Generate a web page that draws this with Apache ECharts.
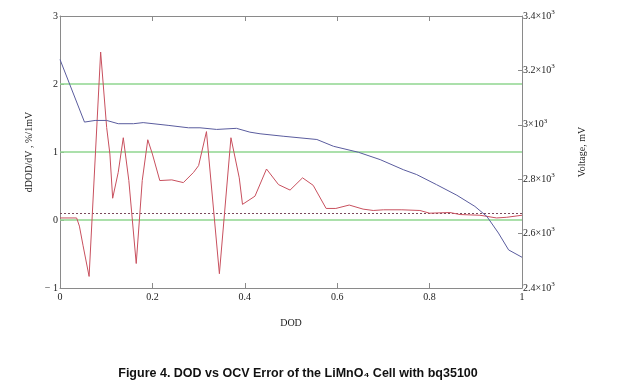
<!DOCTYPE html>
<html>
<head>
<meta charset="utf-8">
<script src="https://cdn.jsdelivr.net/npm/echarts@6/dist/echarts.min.js"></script>
<style>html,body{margin:0;padding:0;background:#fff}#c{width:640px;height:380px}</style>
</head>
<body>
<div id="c"></div>
<script>
// dDOD/dV error curve (left axis)
const redDod = [0, 0.036, 0.042, 0.05, 0.063, 0.088, 0.101, 0.108, 0.114, 0.126, 0.137, 0.149, 0.165, 0.178, 0.19, 0.2, 0.216, 0.242, 0.267, 0.289, 0.3, 0.317, 0.345, 0.37, 0.388, 0.395, 0.422, 0.447, 0.473, 0.498, 0.525, 0.548, 0.576, 0.597, 0.626, 0.656, 0.678, 0.70, 0.74, 0.779, 0.80, 0.844, 0.866, 0.909, 0.945, 0.967, 1.0];
const redVal = [0.03, 0.03, -0.09, -0.38, -0.83, 2.47, 1.36, 0.97, 0.32, 0.70, 1.21, 0.58, -0.64, 0.58, 1.18, 0.97, 0.58, 0.59, 0.55, 0.70, 0.80, 1.30, -0.79, 1.21, 0.62, 0.23, 0.35, 0.75, 0.52, 0.44, 0.62, 0.51, 0.17, 0.17, 0.22, 0.16, 0.14, 0.15, 0.15, 0.14, 0.10, 0.11, 0.08, 0.07, 0.03, 0.04, 0.07];
// OCV voltage curve (right axis, mV)
const blueDod = [0, 0.053, 0.076, 0.101, 0.126, 0.159, 0.18, 0.234, 0.278, 0.303, 0.339, 0.382, 0.411, 0.433, 0.483, 0.556, 0.592, 0.646, 0.693, 0.743, 0.772, 0.815, 0.859, 0.898, 0.924, 0.949, 0.971, 1.0];
const blueMv = [3240, 3010, 3016, 3016, 3004, 3004, 3008, 2998, 2989, 2989, 2983, 2987, 2973, 2967, 2958, 2946, 2921, 2899, 2872, 2835, 2817, 2780, 2741, 2700, 2663, 2602, 2540, 2513];
// reference lines
const greenLevels = [0, 1, 2];
const dottedLevel = 0.1;
// tick labels
const leftTicks = {'-1': '\u2212 1', '0': '0', '1': '1', '2': '2', '3': '3'};
const rightTicks = {2400: '2.4', 2600: '2.6', 2800: '2.8', 3000: '3', 3200: '3.2', 3400: '3.4'};
const xTicks = {0: '0', 0.2: '0.2', 0.4: '0.4', 0.6: '0.6', 0.8: '0.8', 1: '1'};

const serif = 'Liberation Serif';
const axisGray = '#8a8a8a';

const chart = echarts.init(document.getElementById('c'), null, {renderer: 'canvas'});
const markData = greenLevels.map(v => ({yAxis: v, lineStyle: {color: '#8fd68f', width: 1.5, type: 'solid'}}));
markData.push({yAxis: dottedLevel, lineStyle: {color: '#7a4a5a', width: 1, type: [2, 2]}});

chart.setOption({
  animation: false,
  title: {
    text: 'Figure 4. DOD vs OCV Error of the LiMnO\u2084 Cell with bq35100',
    left: 293, top: 362, textAlign: 'center',
    textStyle: {fontFamily: 'Liberation Sans', fontWeight: 'bold', fontSize: 12.5, color: '#111'}
  },
  grid: {left: 60, right: 118, top: 16, bottom: 92, show: false},
  xAxis: [{
    type: 'value', min: 0, max: 1, interval: 0.2, position: 'bottom',
    name: 'DOD', nameLocation: 'middle', nameGap: 30,
    nameTextStyle: {fontFamily: serif, fontSize: 10, color: '#222'},
    axisLine: {onZero: false, lineStyle: {color: axisGray}}, axisTick: {inside: true, length: 5, lineStyle: {color: axisGray}},
    axisLabel: {fontFamily: serif, fontSize: 10, color: '#222', margin: 4, formatter: v => xTicks[v] ?? ''},
    splitLine: {show: false}
  }, {
    type: 'value', min: 0, max: 1, interval: 0.2, position: 'top',
    axisLine: {onZero: false, lineStyle: {color: axisGray}}, axisTick: {inside: true, length: 5, lineStyle: {color: axisGray}},
    axisLabel: {show: false}, splitLine: {show: false}
  }],
  yAxis: [{
    type: 'value', min: -1, max: 3, interval: 1, position: 'left',
    name: 'dDOD/dV , %/1mV', nameLocation: 'middle', nameGap: 20, nameRotate: 90,
    nameTextStyle: {fontFamily: serif, fontSize: 10, color: '#222'},
    axisLine: {show: true, onZero: false, lineStyle: {color: axisGray}}, axisTick: {show: true, inside: true, length: 4, lineStyle: {color: axisGray}},
    axisLabel: {fontFamily: serif, fontSize: 10, color: '#222', margin: 2, formatter: v => leftTicks[String(v)] ?? ''},
    splitLine: {show: false}
  }, {
    type: 'value', min: 2400, max: 3400, interval: 200, position: 'right',
    name: 'Voltage, mV', nameLocation: 'middle', nameGap: 55, nameRotate: 90,
    nameTextStyle: {fontFamily: serif, fontSize: 10, color: '#222'},
    axisLine: {show: true, onZero: false, lineStyle: {color: axisGray}}, axisTick: {show: true, inside: true, length: 4, lineStyle: {color: axisGray}},
    axisLabel: {
      margin: 1, formatter: v => '{m|' + rightTicks[v] + '\u00d710}{s|3}',
      rich: {
        m: {fontFamily: serif, fontSize: 10, color: '#222'},
        s: {fontFamily: serif, fontSize: 7, color: '#222', verticalAlign: 'top', padding: [0, 0, 8, 0]}
      }
    },
    splitLine: {show: false}
  }],
  series: [{
    type: 'line', name: 'dDOD/dV', xAxisIndex: 0, yAxisIndex: 0,
    data: redDod.map((d, i) => [d, redVal[i]]),
    showSymbol: false, lineStyle: {color: '#c8505e', width: 1}, z: 3,
    markLine: {silent: true, symbol: 'none', label: {show: false}, data: markData, z: 1}
  }, {
    type: 'line', name: 'Voltage', xAxisIndex: 0, yAxisIndex: 1,
    data: blueDod.map((d, i) => [d, blueMv[i]]),
    showSymbol: false, lineStyle: {color: '#5a5c9e', width: 1}, z: 4
  }]
});
</script>
</body>
</html>
